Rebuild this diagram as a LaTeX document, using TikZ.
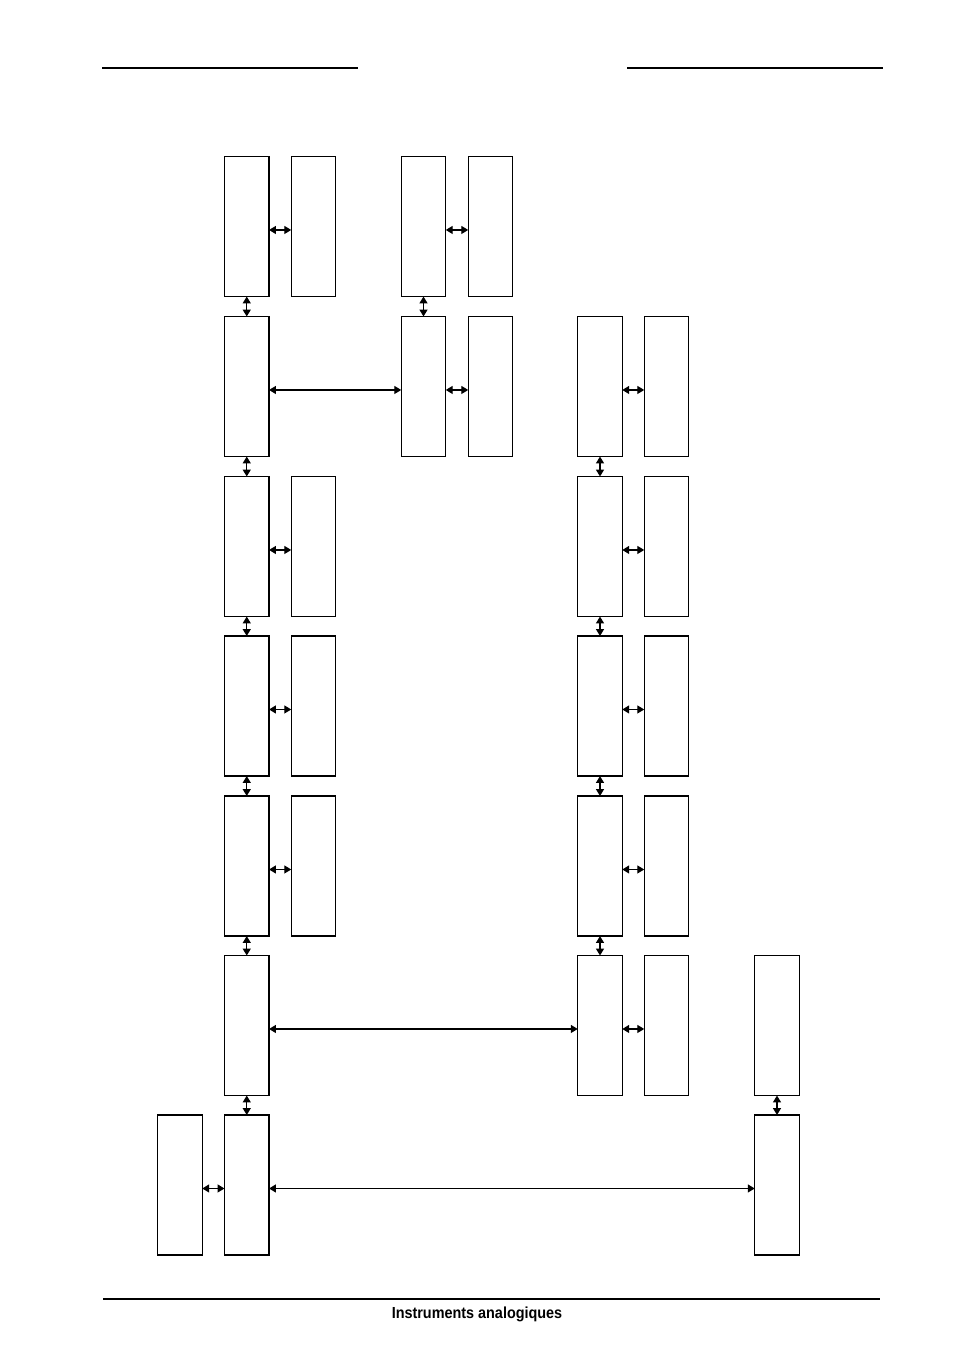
\documentclass[tikz,border=0pt]{standalone}
\usepackage{fontspec}
\setmainfont{Liberation Sans}
\usetikzlibrary{arrows.meta}
\begin{document}
\begin{tikzpicture}[x=0.75pt,y=-0.75pt,
  box/.style={draw,line width=0.95pt,minimum width=33.4pt,minimum height=105pt,inner sep=0pt,outer sep=0pt},
  link/.style={line width=1pt,{Triangle[length=5.2pt,width=6pt]}-{Triangle[length=5.2pt,width=6pt]}},
  rule/.style={line width=1pt}]
\useasboundingbox (0,0) rectangle (954,1350);
% header / footer rules
\draw[rule] (102,68) -- (358,68);
\draw[rule] (627,68) -- (883,68);
\draw[rule] (103,1299) -- (880,1299);
\node[anchor=base,font=\fontsize{12}{14}\selectfont\bfseries] (footer) at (477,1318) {\scalebox{0.9}[1]{Instruments analogiques}};
% row 1
\node[box] (A1) at (246.75,226.5) {};
\node[box] (B1) at (313.5,226.5) {};
\node[box] (C1) at (423.5,226.5) {};
\node[box] (D1) at (490.5,226.5) {};
% row 2
\node[box] (A2) at (246.75,386.5) {};
\node[box] (C2) at (423.5,386.5) {};
\node[box] (D2) at (490.5,386.5) {};
\node[box] (E2) at (600,386.5) {};
\node[box] (F2) at (666.5,386.5) {};
% row 3
\node[box] (A3) at (246.75,546.5) {};
\node[box] (B3) at (313.5,546.5) {};
\node[box] (E3) at (600,546.5) {};
\node[box] (F3) at (666.5,546.5) {};
% row 4
\node[box] (A4) at (246.75,706) {};
\node[box] (B4) at (313.5,706) {};
\node[box] (E4) at (600,706) {};
\node[box] (F4) at (666.5,706) {};
% row 5
\node[box] (A5) at (246.75,866) {};
\node[box] (B5) at (313.5,866) {};
\node[box] (E5) at (600,866) {};
\node[box] (F5) at (666.5,866) {};
% row 6
\node[box] (A6) at (246.75,1025.5) {};
\node[box] (E6) at (600,1025.5) {};
\node[box] (F6) at (666.5,1025.5) {};
\node[box] (G6) at (777,1025.5) {};
% row 7
\node[box] (H7) at (180,1185) {};
\node[box] (A7) at (246.75,1185) {};
\node[box] (G7) at (777,1185) {};
% horizontal links
\draw[link] ([yshift=-2.6pt]A1.east) -- ([yshift=-2.6pt]B1.west);
\draw[link] ([yshift=-2.6pt]C1.east) -- ([yshift=-2.6pt]D1.west);
\draw[link] ([yshift=-2.6pt]A2.east) -- ([yshift=-2.6pt]C2.west);
\draw[link] ([yshift=-2.6pt]C2.east) -- ([yshift=-2.6pt]D2.west);
\draw[link] ([yshift=-2.6pt]E2.east) -- ([yshift=-2.6pt]F2.west);
\draw[link] ([yshift=-2.6pt]A3.east) -- ([yshift=-2.6pt]B3.west);
\draw[link] ([yshift=-2.6pt]E3.east) -- ([yshift=-2.6pt]F3.west);
\draw[link] ([yshift=-2.6pt]A4.east) -- ([yshift=-2.6pt]B4.west);
\draw[link] ([yshift=-2.6pt]E4.east) -- ([yshift=-2.6pt]F4.west);
\draw[link] ([yshift=-2.6pt]A5.east) -- ([yshift=-2.6pt]B5.west);
\draw[link] ([yshift=-2.6pt]E5.east) -- ([yshift=-2.6pt]F5.west);
\draw[link] ([yshift=-2.6pt]A6.east) -- ([yshift=-2.6pt]E6.west);
\draw[link] ([yshift=-2.6pt]E6.east) -- ([yshift=-2.6pt]F6.west);
\draw[link] ([yshift=-2.6pt]H7.east) -- ([yshift=-2.6pt]A7.west);
\draw[link] ([yshift=-2.6pt]A7.east) -- ([yshift=-2.6pt]G7.west);
% vertical links
\draw[link] (A1.south) -- (A2.north);
\draw[link] (C1.south) -- (C2.north);
\draw[link] (A2.south) -- (A3.north);
\draw[link] (E2.south) -- (E3.north);
\draw[link] (A3.south) -- (A4.north);
\draw[link] (E3.south) -- (E4.north);
\draw[link] (A4.south) -- (A5.north);
\draw[link] (E4.south) -- (E5.north);
\draw[link] (A5.south) -- (A6.north);
\draw[link] (E5.south) -- (E6.north);
\draw[link] (A6.south) -- (A7.north);
\draw[link] (G6.south) -- (G7.north);
\end{tikzpicture}
\end{document}
